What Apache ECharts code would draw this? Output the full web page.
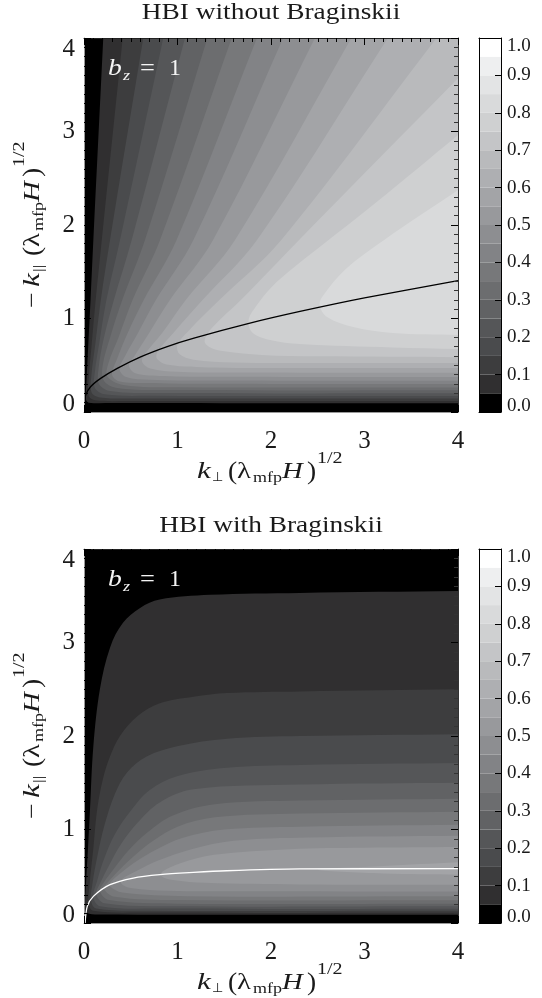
<!DOCTYPE html>
<html>
<head>
<meta charset="utf-8">
<style>html,body{margin:0;padding:0;background:#fff}#c{width:542px;height:998px}</style>
<script src="https://cdn.jsdelivr.net/npm/echarts@6/dist/echarts.min.js"></script>
</head>
<body>
<div id="c"></div>
<script>
const bandEdges = [0,.05,.1,.15,.2,.25,.3,.35,.4,.45,.5,.55,.6,.65,.7,.75,.8,.85,.9,.95,1];
const bandColors = ["#000000","#302f30","#3d3d3e","#4a4b4d","#555658","#616264","#6c6d6f","#77787a","#828386","#8d8e91",
  "#98999c","#a3a4a7","#aeafb2","#b9babc","#c4c5c7","#cfd0d1","#d9dadb","#e3e4e5","#eeeff0","#ffffff"];
const ticks = [0,1,2,3,4];

// level curves, lowest level first
const t05 = [[.206,4],[.1,1.84],[.07,1.2],[.045,.7],[.025,.3],[.02,.14],[.05,.1],[.3,.095],[4,.093]];
const t10 = [[.414,4],[.19,1.84],[.125,1.2],[.08,.7],[.05,.35],[.05,.17],[.12,.125],[.5,.118],[4,.118]];
const t15 = [[.634,4],[.278,1.84],[.18,1.2],[.12,.72],[.08,.4],[.08,.21],[.17,.155],[.6,.145],[4,.144]];
const t20 = [[.848,4],[.385,1.84],[.24,1.2],[.165,.75],[.115,.42],[.115,.26],[.22,.19],[.7,.173],[4,.171]];
const t25 = [[1.08,4],[.51,1.84],[.32,1.2],[.21,.78],[.155,.46],[.16,.3],[.28,.225],[.8,.202],[4,.2]];
const t30 = [[1.32,4],[.652,1.84],[.41,1.2],[.28,.8],[.2,.5],[.21,.34],[.34,.26],[.9,.234],[4,.232]];
const t35 = [[1.58,4],[.813,1.84],[.52,1.2],[.37,.8],[.26,.52],[.25,.38],[.42,.29],[1,.265],[4,.263]];
const t40 = [[1.85,4],[.99,1.84],[.64,1.2],[.47,.85],[.35,.56],[.3,.4],[.37,.33],[.6,.31],[1.2,.302],[4,.3]];
const t45 = [[2.13,4],[1.17,1.84],[.77,1.2],[.58,.85],[.44,.6],[.38,.46],[.45,.375],[.7,.345],[1.3,.337],[4,.335]];
const t50 = [[2.47,4],[1.38,1.84],[.92,1.2],[.7,.85],[.54,.6],[.48,.5],[.55,.415],[.85,.385],[1.4,.377],[4,.375]];
const t55 = [[2.86,4],[1.615,1.84],[1.09,1.2],[.84,.85],[.66,.63],[.62,.54],[.71,.465],[1,.43],[1.6,.422],[4,.42]];
const t60 = [[3.25,4],[1.85,1.84],[1.27,1.2],[.96,.85],[.79,.65],[.78,.57],[.9,.505],[1.39,.475],[2.2,.47],[4,.47]];
const t65 = [[3.77,4],[2.11,1.84],[1.45,1.2],[1.12,.87],[1,.72],[1.02,.62],[1.17,.56],[1.6,.53],[2.5,.525],[4,.525]];
const t70 = [[4,3.57],[2.3,1.84],[1.68,1.2],[1.37,.9],[1.29,.76],[1.35,.69],[1.5,.65],[1.9,.61],[2.5,.595],[4,.585]];
const t75 = [[4,2.963],[3.13,2.246],[2.25,1.55],[2,1.33],[1.84,1.13],[1.76,.98],[1.8,.85],[1.99,.77],[2.31,.727],[3.3,.69],[4,.674]];
const t80 = [[4,2.374],[3.21,1.84],[2.8,1.53],[2.56,1.25],[2.52,1.144],[2.6,1.016],[2.88,.909],[3.3,.845],[4,.823]];
const topContours = [t05,t10,t15,t20,t25,t30,t35,t40,t45,t50,t55,t60,t65,t70,t75,t80];

// same for the bottom panel
const b05 = [[4,3.55],[2.31,3.53],[1.35,3.51],[.81,3.46],[.6,3.37],[.417,3.21],[.28,2.95],[.17,2.5],[.1,1.89],[.064,1.21],[.043,.8],[.02,.4],[.012,.18],[.03,.11],[.15,.092],[4,.089]];
const b10 = [[4,2.5],[2.31,2.477],[1.53,2.46],[1.17,2.42],[.81,2.35],[.57,2.21],[.385,2],[.278,1.78],[.2,1.53],[.14,1.21],[.1,.8],[.06,.42],[.05,.2],[.1,.13],[.6,.111],[4,.11]];
const b15 = [[4,2.02],[2.31,2],[1.53,1.97],[.995,1.89],[.67,1.78],[.46,1.61],[.33,1.38],[.22,1.05],[.14,.7],[.09,.42],[.075,.24],[.13,.155],[.7,.132],[4,.131]];
const b20 = [[4,1.71],[2.31,1.69],[1.53,1.66],[.995,1.57],[.7,1.42],[.5,1.2],[.33,.95],[.22,.7],[.14,.45],[.1,.28],[.17,.18],[.8,.154],[4,.153]];
const b25 = [[4,1.5],[2.31,1.48],[1.17,1.43],[.81,1.29],[.57,1.07],[.4,.85],[.27,.62],[.17,.42],[.13,.31],[.22,.21],[.9,.179],[4,.178]];
const b30 = [[4,1.33],[2.31,1.31],[1.4,1.27],[.95,1.15],[.68,.97],[.48,.78],[.32,.58],[.21,.43],[.17,.34],[.27,.245],[1,.207],[4,.206]];
const b35 = [[4,1.19],[2.31,1.17],[1.4,1.13],[1,1.03],[.74,.88],[.55,.73],[.38,.57],[.25,.43],[.21,.37],[.33,.28],[1,.245],[4,.242]];
const b40 = [[4,1.05],[2.31,1.03],[1.5,1],[1.05,.91],[.78,.79],[.56,.66],[.4,.54],[.29,.44],[.28,.39],[.41,.325],[1.1,.287],[4,.285]];
const b45 = [[4,.934],[2.4,.915],[1.6,.88],[1.15,.79],[.8,.67],[.55,.55],[.41,.47],[.4,.42],[.5,.375],[.9,.345],[1.6,.34],[4,.338]];
const b50 = [[4,.813],[3,.805],[2.2,.79],[1.39,.73],[1.03,.64],[.84,.55],[.83,.5],[.95,.46],[1.3,.43],[2.3,.412],[4,.41]];
const b55 = [[4,.65],[3.2,.61],[2.5,.57],[3.2,.53],[4,.517]];
const bottomContours = [b05,b10,b15,b20,b25,b30,b35,b40,b45,b50,b55];

// marginal curves
const topCurve = [[.01,.09],[.018,.18],[.07,.27],[.178,.36],[.356,.467],[.606,.59],[.89,.7],[1.176,.79],[1.754,.945],[2.31,1.075],[3,1.22],[4,1.404]];
const bottomCurve = [[.012,0],[.035,.178],[.1,.285],[.278,.41],[.527,.481],[.813,.517],[1.17,.541],[1.526,.559],[2.31,.578],[4,.581]];

const SERIF = '"Liberation Serif"';

// carry a curve on past the plot edge along its end direction, so the fill closes outside the clip
function beyond(p, q) {
  const dx = p[0] - q[0], dy = p[1] - q[1], len = Math.hypot(dx, dy);
  return [p[0] + dx / len * 0.6, p[1] + dy / len * 0.6];
}

function closed(c) {
  const start = beyond(c[0], c[1]);
  const end = beyond(c[c.length - 1], c[c.length - 2]);
  return [start, ...c, end, [6, end[1]], [6, 6], [start[0], 6]];
}

function contourSeries(curves, axisIndex) {
  return {
    type: "custom", xAxisIndex: axisIndex, yAxisIndex: axisIndex, clip: true, z: 2,
    data: curves.map((_, i) => [i, 0]),
    renderItem: (params, api) => {
      const i = params.dataIndex;
      return {
        type: "polygon",
        shape: { points: closed(curves[i]).map((p) => api.coord(p)), smooth: 0.35 },
        style: { fill: bandColors[i + 1] },
      };
    },
  };
}

function barSeries(axisIndex) {
  return {
    type: "custom", xAxisIndex: axisIndex, yAxisIndex: axisIndex, clip: true, z: 2,
    data: bandColors.map((_, i) => [i, 0]),
    renderItem: (params, api) => {
      const i = params.dataIndex;
      const a = api.coord([0, bandEdges[i]]), b = api.coord([1, bandEdges[i + 1]]);
      return {
        type: "rect",
        shape: { x: a[0], y: b[1], width: b[0] - a[0], height: a[1] - b[1] },
        style: { fill: bandColors[i] },
      };
    },
  };
}

function lineSeries(data, color, axisIndex) {
  return {
    type: "line", data, xAxisIndex: axisIndex, yAxisIndex: axisIndex, smooth: 0.3, showSymbol: false, z: 3,
    lineStyle: { color, width: 1.3 }, silent: true,
  };
}

function mainAxis(grid, position, labelled, lineColor, minorColor) {
  const horiz = position === "top" || position === "bottom";
  return {
    type: "value", gridIndex: grid, position, min: 0, max: 4, interval: 1, z: 10,
    axisLine: { show: true, onZero: false, lineStyle: { color: lineColor, width: 1 } },
    axisTick: { show: true, inside: true, length: 7, lineStyle: { color: "#000", width: 1 } },
    minorTick: { show: true, splitNumber: 10, length: 4, lineStyle: { color: minorColor, width: 1 } },
    splitLine: { show: false }, minorSplitLine: { show: false },
    axisLabel: labelled ? {
      show: true, color: "#1a1a1a", fontFamily: SERIF, fontSize: 25, margin: horiz ? 21 : 9,
      lineHeight: 16, padding: horiz ? 0 : [3, 0, 0, 0],
      customValues: ticks, formatter: (v) => String(v),
      verticalAlignMinLabel: horiz ? undefined : "bottom", verticalAlignMaxLabel: horiz ? undefined : "top",
    } : { show: false },
  };
}

function barXAxis(grid, position) {
  return {
    type: "value", gridIndex: grid, position, min: 0, max: 1, z: 10,
    axisLine: { show: true, onZero: false, lineStyle: { color: "#000", width: 1 } },
    axisTick: { show: false }, splitLine: { show: false }, axisLabel: { show: false },
  };
}

function barYAxis(grid, position, labelled) {
  return {
    type: "value", gridIndex: grid, position, min: 0, max: 1, interval: 0.1, z: 10,
    axisLine: { show: true, onZero: false, lineStyle: { color: "#000", width: 1 } },
    axisTick: { show: labelled, inside: true, length: 6, lineStyle: { color: "#000", width: 1 } },
    splitLine: { show: false },
    axisLabel: labelled ? {
      show: true, color: "#1a1a1a", fontFamily: SERIF, fontSize: 19, margin: 6,
      lineHeight: 12, padding: [2, 0, 0, 0],
      formatter: (v) => v.toFixed(1), verticalAlignMinLabel: "bottom", verticalAlignMaxLabel: "top",
    } : { show: false },
  };
}

function txt(t, x, y, size, opts) {
  const o = opts || {};
  return {
    type: "text", x, y, scaleX: o.sx || 1, z: 100,
    style: {
      text: t, fill: o.fill || "#1a1a1a", textAlign: o.align || "left", textVerticalAlign: "middle",
      font: (o.italic ? "italic " : "") + size + 'px ' + (o.family || SERIF),
    },
  };
}

// k_perp (lambda_mfp H)^(1/2), laid out along the run of the axis
function axisName(x, y, vertical) {
  const parts = [];
  if (vertical) parts.push(txt("\u2212", -21, 0, 23, { sx: 1.2 }));
  parts.push(txt("k", 0, 0, 24, { italic: true, sx: 1.3 }));
  if (vertical) parts.push(txt("||", 15, 6, 14, { sx: 1.3 }));
  else parts.push(txt("\u22a5", 15, 6, 13, { family: '"DejaVu Sans"' }));
  parts.push(txt("(", 31, 0, 25, { sx: 1.1 }));
  parts.push(txt("\u03bb", 40, 0, 24, { sx: 1.2 }));
  parts.push(txt("mfp", 56, 6, 15, { sx: 1.2 }));
  parts.push(txt("H", 85, 0, 24, { italic: true, sx: 1.2 }));
  parts.push(txt(")", 110, 0, 25, { sx: 1.1 }));
  parts.push(txt("1/2", 120, -13, 16, { sx: 1.25 }));
  return { type: "group", x, y, rotation: vertical ? Math.PI / 2 : 0, children: parts };
}

function bzLabel(y) {
  return { type: "group", x: 108, y, children: [
    txt("b", 0, 0, 24, { italic: true, fill: "#f4f4f4", sx: 1.15 }),
    txt("z", 15, 7, 15, { italic: true, fill: "#f4f4f4", sx: 1.2 }),
    txt("=", 32, 0, 24, { fill: "#f4f4f4", sx: 1.1 }),
    txt("1", 61, 0, 24, { fill: "#f4f4f4" }),
  ] };
}

const chart = echarts.init(document.getElementById("c"), null, { renderer: "canvas" });
chart.setOption({
  animation: false,
  backgroundColor: "#fff",
  grid: [
    { left: 84, top: 38, width: 374, height: 374, show: true, backgroundColor: "#000", borderWidth: 0 },
    { left: 479, top: 38, width: 22, height: 374 },
    { left: 84, top: 549, width: 374, height: 374, show: true, backgroundColor: "#000", borderWidth: 0 },
    { left: 479, top: 549, width: 22, height: 374 },
  ],
  xAxis: [
    mainAxis(0, "bottom", true, "#999", "#000"), mainAxis(2, "bottom", true, "#999", "#000"),
    barXAxis(1, "bottom"), barXAxis(3, "bottom"),
    mainAxis(0, "top", false, "#222", "#000"), mainAxis(2, "top", false, "#222", "#000"),
    barXAxis(1, "top"), barXAxis(3, "top"),
  ],
  yAxis: [
    mainAxis(0, "left", true, "#999", "#000"), mainAxis(2, "left", true, "#999", "#000"),
    barYAxis(1, "right", true), barYAxis(3, "right", true),
    mainAxis(0, "right", false, "#333", "#333"), mainAxis(2, "right", false, "#333", "#333"),
    barYAxis(1, "left", false), barYAxis(3, "left", false),
  ],
  series: [
    contourSeries(topContours, 0),
    contourSeries(bottomContours, 1),
    barSeries(2),
    barSeries(3),
    lineSeries(topCurve, "#000", 0),
    lineSeries(bottomCurve, "#fff", 1),
  ],
  graphic: [
    txt("HBI without Braginskii", 271, 13, 23, { align: "center", sx: 1.19 }),
    txt("HBI with Braginskii", 271, 526, 23, { align: "center", sx: 1.19 }),
    axisName(197, 472, false),
    axisName(197, 983, false),
    axisName(33, 287, true),
    axisName(33, 798, true),
    bzLabel(69),
    bzLabel(580),
  ],
});
</script>
</body>
</html>
